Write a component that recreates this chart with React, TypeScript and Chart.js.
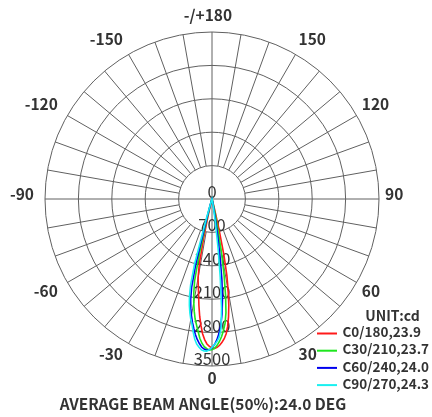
import React, { useEffect, useRef } from 'react';
import { Chart, registerables } from 'chart.js';

Chart.register(...registerables);

// ---- data (candela) ----
const LOBE_ANGLES = [
  -20, -19, -18, -17, -16, -15, -14, -13, -12, -11, -10, -9, -8, -7, -6, -5, -4, -3, -2, -1,
  0, 1, 2, 3, 4, 5, 6, 7, 8, 9, 10, 11, 12, 13, 14, 15, 16, 17, 18, 19, 20,
];
const C0_180 = [
  0, 0, 10, 20, 40, 80, 160, 380, 850, 1400, 1680, 1840, 2020, 2250, 2470, 2660, 2830, 2950, 3040, 3090,
  3120, 3130, 3110, 3070, 3010, 2940, 2840, 2690, 2490, 2250, 1950, 1640, 1200, 650, 250, 100, 50, 25, 10, 0, 0,
];
const C30_210 = [
  0, 10, 20, 40, 80, 180, 500, 1200, 1750, 2000, 2200, 2380, 2540, 2660, 2790, 2930, 3030, 3100, 3140, 3165,
  3160, 3130, 3070, 2990, 2890, 2760, 2620, 2400, 2050, 1620, 1150, 650, 300, 120, 60, 30, 15, 0, 0, 0, 0,
];
const C60_240 = [
  0, 20, 40, 80, 180, 450, 1400, 1900, 2150, 2330, 2480, 2620, 2740, 2860, 2960, 3040, 3110, 3150, 3170, 3160,
  3120, 3050, 2950, 2820, 2650, 2420, 2100, 1700, 1200, 700, 330, 150, 70, 35, 15, 0, 0, 0, 0, 0, 0,
];
const C90_270 = [
  0, 20, 60, 150, 500, 1400, 1850, 2100, 2280, 2430, 2560, 2670, 2820, 2960, 3060, 3120, 3170, 3190, 3190, 3160,
  3110, 3050, 2990, 2900, 2720, 2300, 1650, 1050, 550, 250, 120, 60, 30, 15, 0, 0, 0, 0, 0, 0, 0,
];

const SERIES_NAMES = ['C0/180,23.9', 'C30/210,23.7', 'C60/240,24.0', 'C90/270,24.3'];
const SERIES_VALUES = [C0_180, C30_210, C60_240, C90_270];
const SERIES_COLORS = ['#ff1a1a', '#1ee61e', '#0000ee', '#19f0f0'];

const ANGLE_LABELS = [180, 150, 120, 90, 60, 30, 0, -30, -60, -90, -120, -150];
const RADIAL_TICKS = [0, 700, 1400, 2100, 2800, 3500];
const UNIT_LABEL = 'UNIT:cd';
const TITLE = 'AVERAGE BEAM ANGLE(50%):24.0 DEG';

const GRID = '#606060';
const TEXT = '#333333';
const FONT = '"Noto Sans CJK SC", "Noto Sans", sans-serif';

// one radar spoke per degree: index 0 at top = 180, clockwise -> 90 right, 0 bottom, -90 left
const DEGREES = Array.from({ length: 360 }, (_, i) => 180 - i);
const angleText = (a: number) => (a === 180 ? '-/+180' : String(a));
const indexOfAngle = (a: number) => (((180 - a) % 360) + 360) % 360;

// pick a bold font size so that `text` is `width` px wide
function fitBold(ctx: CanvasRenderingContext2D, text: string, width: number, base: number) {
  ctx.font = `bold ${base}px ${FONT}`;
  const w = ctx.measureText(text).width;
  const size = Math.min(base, (base * width) / w);
  return `bold ${size.toFixed(2)}px ${FONT}`;
}

const polarDecor = {
  id: 'polarDecor',
  beforeDatasetsDraw(chart: any) {
    const s = chart.scales.r;
    const ctx = chart.ctx as CanvasRenderingContext2D;
    const maxV = RADIAL_TICKS[RADIAL_TICKS.length - 1];
    const R = s.drawingArea;
    const cx = s.xCenter;
    const cy = s.yCenter;
    ctx.save();
    // 10-degree spokes between the first ring and the outer ring
    ctx.strokeStyle = GRID;
    ctx.lineWidth = 1;
    for (let i = 0; i < 360; i += 10) {
      if (i % 90 === 0) continue;
      const p1 = s.getPointPositionForValue(i, RADIAL_TICKS[1]);
      const p2 = s.getPointPositionForValue(i, maxV);
      ctx.beginPath();
      ctx.moveTo(p1.x, p1.y);
      ctx.lineTo(p2.x, p2.y);
      ctx.stroke();
    }
    // radial tick labels along the 0-degree (downward) ray
    ctx.fillStyle = TEXT;
    ctx.font = `16.5px ${FONT}`;
    ctx.textAlign = 'center';
    ctx.textBaseline = 'alphabetic';
    const i0 = indexOfAngle(0);
    RADIAL_TICKS.forEach((v) => {
      const p = s.getPointPositionForValue(i0, v);
      ctx.fillText(String(v), p.x, p.y - 1);
    });
    // angle labels
    ctx.font = `bold 15.5px ${FONT}`;
    ctx.textBaseline = 'alphabetic';
    const digitH = 11;
    ANGLE_LABELS.forEach((a) => {
      const idx = indexOfAngle(a);
      const txt = angleText(a);
      const rad = (a * Math.PI) / 180;
      const sx = Math.sin(rad);
      const cs = Math.cos(rad); // >0 lower half
      let base: number;
      if (Math.abs(cs) < 0.01) base = cy - 5 + digitH / 2;
      else if (cs > 0) base = cy + (R + 6.5) * cs + digitH;
      else base = cy + (R + 11) * cs;
      if (Math.abs(sx) < 0.01) {
        ctx.textAlign = 'center';
        ctx.fillText(txt, cx + (txt.startsWith('-') ? -4 : 0), base);
      } else if (sx > 0) {
        ctx.textAlign = 'left';
        const ph = s.getPointPosition(idx, R + 6);
        ctx.fillText(txt, ph.x, base);
      } else {
        ctx.textAlign = 'right';
        const ph = s.getPointPosition(idx, R + 11);
        ctx.fillText(txt, ph.x, base);
      }
    });
    ctx.restore();
  },
  afterDraw(chart: any) {
    const ctx = chart.ctx as CanvasRenderingContext2D;
    ctx.save();
    ctx.fillStyle = TEXT;
    ctx.font = fitBold(ctx, UNIT_LABEL, 54.5, 16);
    ctx.textAlign = 'center';
    ctx.textBaseline = 'alphabetic';
    ctx.fillText(UNIT_LABEL, 392.5, 320.5);
    ctx.font = fitBold(ctx, SERIES_NAMES[1], 86.5, 16);
    ctx.textAlign = 'left';
    ctx.textBaseline = 'middle';
    SERIES_NAMES.forEach((name, k) => {
      const y = 333.5 + k * 17.2;
      ctx.strokeStyle = SERIES_COLORS[k];
      ctx.lineWidth = 2;
      ctx.beginPath();
      ctx.moveTo(317, y);
      ctx.lineTo(337, y);
      ctx.stroke();
      ctx.fillText(name, 342.5, y - 1.5);
    });
    ctx.font = `bold 15.4px ${FONT}`;
    ctx.textAlign = 'center';
    ctx.textBaseline = 'middle';
    ctx.fillText(TITLE, 203, 404.5);
    ctx.restore();
  },
};

export default function App() {
  const ref = useRef<HTMLCanvasElement>(null);
  useEffect(() => {
    document.body.style.margin = '0';
    const canvas = ref.current!;
    const datasets = SERIES_NAMES.map((name, k) => ({
      label: name,
      data: DEGREES.map((a) => {
        const j = LOBE_ANGLES.indexOf(a);
        return j >= 0 ? SERIES_VALUES[k][j] : 0;
      }),
      borderColor: SERIES_COLORS[k],
      borderWidth: 1.6,
      pointRadius: 0,
      fill: false,
      tension: 0,
      order: SERIES_NAMES.length - k,
    }));
    const chart = new Chart(canvas, {
      type: 'radar',
      data: { labels: DEGREES.map(angleText), datasets },
      options: {
        responsive: false,
        animation: false,
        layout: { padding: { left: 45, top: 32, right: 53, bottom: 51 } },
        plugins: { legend: { display: false }, tooltip: { enabled: false }, title: { display: false } },
        scales: {
          r: {
            min: 0,
            max: 3500,
            ticks: { stepSize: 700, display: false },
            grid: { circular: true, color: GRID, lineWidth: 1 },
            angleLines: {
              display: true,
              color: GRID,
              lineWidth: (c: any) => (c.index % 90 === 0 ? 1 : 0),
            },
            pointLabels: { display: false },
          },
        },
      },
      plugins: [polarDecor],
    });
    return () => chart.destroy();
  }, []);
  return <canvas ref={ref} width={432} height={417} style={{ display: 'block' }} />;
}
